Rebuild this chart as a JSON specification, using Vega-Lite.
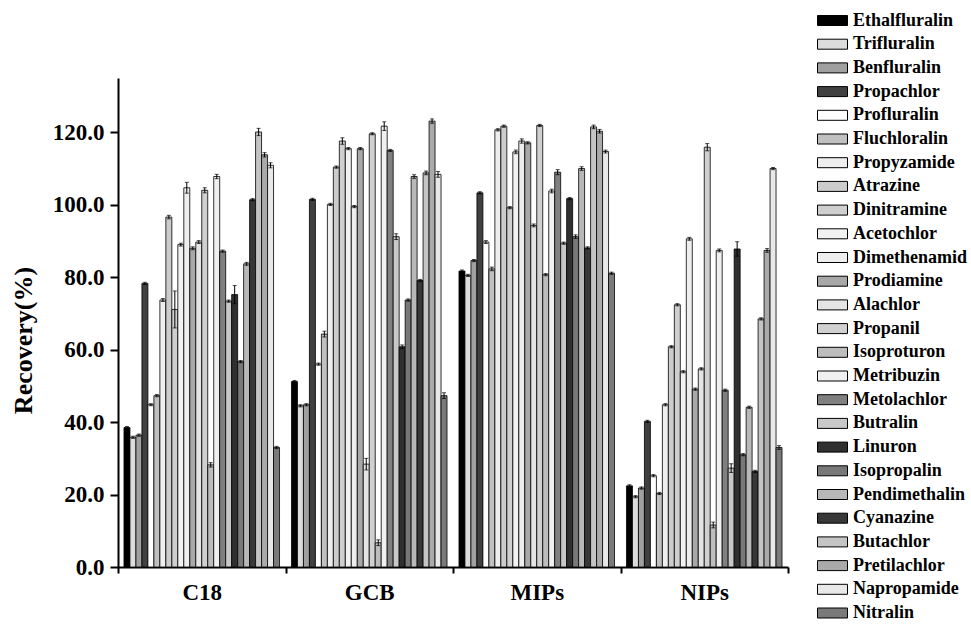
{
 "$schema": "https://vega.github.io/schema/vega-lite/v6.json",
 "width": 670,
 "height": 489,
 "autosize": {"type": "none"},
 "padding": {"left": 118, "top": 78, "right": 183, "bottom": 59},
 "config": {"view": {"stroke": null}, "font": "Liberation Serif"},
 "data": {"values": [
  {"g":"C18","c":"Ethalfluralin","v":38.5,"e":0.3},
  {"g":"C18","c":"Trifluralin","v":35.8,"e":0.3},
  {"g":"C18","c":"Benfluralin","v":36.4,"e":0.3},
  {"g":"C18","c":"Propachlor","v":78.3,"e":0.3},
  {"g":"C18","c":"Profluralin","v":44.8,"e":0.3},
  {"g":"C18","c":"Fluchloralin","v":47.3,"e":0.3},
  {"g":"C18","c":"Propyzamide","v":73.7,"e":0.4},
  {"g":"C18","c":"Atrazine","v":96.6,"e":0.5},
  {"g":"C18","c":"Dinitramine","v":71.1,"e":5.1},
  {"g":"C18","c":"Acetochlor","v":89.0,"e":0.4},
  {"g":"C18","c":"Dimethenamid","v":104.7,"e":1.5},
  {"g":"C18","c":"Prodiamine","v":88.0,"e":0.4},
  {"g":"C18","c":"Alachlor","v":89.7,"e":0.4},
  {"g":"C18","c":"Propanil","v":104.0,"e":0.7},
  {"g":"C18","c":"Isoproturon","v":28.2,"e":0.6},
  {"g":"C18","c":"Metribuzin","v":107.8,"e":0.6},
  {"g":"C18","c":"Metolachlor","v":87.2,"e":0.3},
  {"g":"C18","c":"Butralin","v":73.4,"e":0.3},
  {"g":"C18","c":"Linuron","v":75.2,"e":2.5},
  {"g":"C18","c":"Isopropalin","v":56.7,"e":0.3},
  {"g":"C18","c":"Pendimethalin","v":83.7,"e":0.4},
  {"g":"C18","c":"Cyanazine","v":101.4,"e":0.3},
  {"g":"C18","c":"Butachlor","v":120.1,"e":1.0},
  {"g":"C18","c":"Pretilachlor","v":113.8,"e":0.6},
  {"g":"C18","c":"Napropamide","v":110.9,"e":0.7},
  {"g":"C18","c":"Nitralin","v":33.0,"e":0.3},
  {"g":"GCB","c":"Ethalfluralin","v":51.2,"e":0.3},
  {"g":"GCB","c":"Trifluralin","v":44.5,"e":0.3},
  {"g":"GCB","c":"Benfluralin","v":44.8,"e":0.3},
  {"g":"GCB","c":"Propachlor","v":101.5,"e":0.3},
  {"g":"GCB","c":"Profluralin","v":56.0,"e":0.3},
  {"g":"GCB","c":"Fluchloralin","v":64.3,"e":0.8},
  {"g":"GCB","c":"Propyzamide","v":100.1,"e":0.3},
  {"g":"GCB","c":"Atrazine","v":110.4,"e":0.3},
  {"g":"GCB","c":"Dinitramine","v":117.6,"e":0.9},
  {"g":"GCB","c":"Acetochlor","v":115.5,"e":0.3},
  {"g":"GCB","c":"Dimethenamid","v":99.5,"e":0.3},
  {"g":"GCB","c":"Prodiamine","v":115.5,"e":0.3},
  {"g":"GCB","c":"Alachlor","v":28.4,"e":1.6},
  {"g":"GCB","c":"Propanil","v":119.6,"e":0.3},
  {"g":"GCB","c":"Isoproturon","v":6.7,"e":0.8},
  {"g":"GCB","c":"Metribuzin","v":121.7,"e":1.2},
  {"g":"GCB","c":"Metolachlor","v":115.0,"e":0.3},
  {"g":"GCB","c":"Butralin","v":91.2,"e":0.8},
  {"g":"GCB","c":"Linuron","v":60.8,"e":0.5},
  {"g":"GCB","c":"Isopropalin","v":73.7,"e":0.3},
  {"g":"GCB","c":"Pendimethalin","v":107.8,"e":0.5},
  {"g":"GCB","c":"Cyanazine","v":79.1,"e":0.3},
  {"g":"GCB","c":"Butachlor","v":108.8,"e":0.5},
  {"g":"GCB","c":"Pretilachlor","v":123.1,"e":0.6},
  {"g":"GCB","c":"Napropamide","v":108.4,"e":0.8},
  {"g":"GCB","c":"Nitralin","v":47.3,"e":0.8},
  {"g":"MIPs","c":"Ethalfluralin","v":81.7,"e":0.3},
  {"g":"MIPs","c":"Trifluralin","v":80.5,"e":0.3},
  {"g":"MIPs","c":"Benfluralin","v":84.6,"e":0.3},
  {"g":"MIPs","c":"Propachlor","v":103.3,"e":0.3},
  {"g":"MIPs","c":"Profluralin","v":89.7,"e":0.4},
  {"g":"MIPs","c":"Fluchloralin","v":82.3,"e":0.5},
  {"g":"MIPs","c":"Propyzamide","v":120.7,"e":0.3},
  {"g":"MIPs","c":"Atrazine","v":121.7,"e":0.3},
  {"g":"MIPs","c":"Dinitramine","v":99.2,"e":0.3},
  {"g":"MIPs","c":"Acetochlor","v":114.6,"e":0.5},
  {"g":"MIPs","c":"Dimethenamid","v":117.6,"e":0.6},
  {"g":"MIPs","c":"Prodiamine","v":117.1,"e":0.3},
  {"g":"MIPs","c":"Alachlor","v":94.3,"e":0.4},
  {"g":"MIPs","c":"Propanil","v":121.9,"e":0.3},
  {"g":"MIPs","c":"Isoproturon","v":80.7,"e":0.3},
  {"g":"MIPs","c":"Metribuzin","v":103.8,"e":0.5},
  {"g":"MIPs","c":"Metolachlor","v":109.0,"e":0.7},
  {"g":"MIPs","c":"Butralin","v":89.4,"e":0.3},
  {"g":"MIPs","c":"Linuron","v":101.7,"e":0.3},
  {"g":"MIPs","c":"Isopropalin","v":91.2,"e":0.5},
  {"g":"MIPs","c":"Pendimethalin","v":110.0,"e":0.5},
  {"g":"MIPs","c":"Cyanazine","v":88.1,"e":0.3},
  {"g":"MIPs","c":"Butachlor","v":121.5,"e":0.5},
  {"g":"MIPs","c":"Pretilachlor","v":120.3,"e":0.5},
  {"g":"MIPs","c":"Napropamide","v":114.7,"e":0.4},
  {"g":"MIPs","c":"Nitralin","v":81.1,"e":0.3},
  {"g":"NIPs","c":"Ethalfluralin","v":22.4,"e":0.3},
  {"g":"NIPs","c":"Trifluralin","v":19.4,"e":0.3},
  {"g":"NIPs","c":"Benfluralin","v":21.8,"e":0.3},
  {"g":"NIPs","c":"Propachlor","v":40.2,"e":0.3},
  {"g":"NIPs","c":"Profluralin","v":25.2,"e":0.3},
  {"g":"NIPs","c":"Fluchloralin","v":20.3,"e":0.3},
  {"g":"NIPs","c":"Propyzamide","v":44.8,"e":0.3},
  {"g":"NIPs","c":"Atrazine","v":60.8,"e":0.3},
  {"g":"NIPs","c":"Dinitramine","v":72.4,"e":0.3},
  {"g":"NIPs","c":"Acetochlor","v":53.9,"e":0.3},
  {"g":"NIPs","c":"Dimethenamid","v":90.6,"e":0.4},
  {"g":"NIPs","c":"Prodiamine","v":49.1,"e":0.3},
  {"g":"NIPs","c":"Alachlor","v":54.7,"e":0.3},
  {"g":"NIPs","c":"Propanil","v":115.9,"e":1.0},
  {"g":"NIPs","c":"Isoproturon","v":11.6,"e":0.8},
  {"g":"NIPs","c":"Metribuzin","v":87.4,"e":0.4},
  {"g":"NIPs","c":"Metolachlor","v":48.8,"e":0.3},
  {"g":"NIPs","c":"Butralin","v":27.3,"e":1.2},
  {"g":"NIPs","c":"Linuron","v":87.8,"e":2.0},
  {"g":"NIPs","c":"Isopropalin","v":31.0,"e":0.3},
  {"g":"NIPs","c":"Pendimethalin","v":44.1,"e":0.3},
  {"g":"NIPs","c":"Cyanazine","v":26.4,"e":0.3},
  {"g":"NIPs","c":"Butachlor","v":68.5,"e":0.3},
  {"g":"NIPs","c":"Pretilachlor","v":87.4,"e":0.5},
  {"g":"NIPs","c":"Napropamide","v":110.0,"e":0.3},
  {"g":"NIPs","c":"Nitralin","v":33.0,"e":0.5}
 ]},
 "encoding": {
  "x": {
   "field": "g", "type": "nominal",
   "scale": {"domain": ["C18","GCB","MIPs","NIPs"], "paddingInner": 0, "paddingOuter": 0},
   "axis": {"title": null, "labelAngle": 0, "labelFont": "Liberation Serif", "labelFontWeight": "bold", "labelFontSize": 23, "labelColor": "black", "labelPadding": 8, "tickBand": "extent", "tickSize": 6, "tickWidth": 2, "tickColor": "black", "domainWidth": 2, "domainColor": "black"}
  },
  "xOffset": {
   "field": "c", "type": "nominal",
   "scale": {"domain": ["Ethalfluralin","Trifluralin","Benfluralin","Propachlor","Profluralin","Fluchloralin","Propyzamide","Atrazine","Dinitramine","Acetochlor","Dimethenamid","Prodiamine","Alachlor","Propanil","Isoproturon","Metribuzin","Metolachlor","Butralin","Linuron","Isopropalin","Pendimethalin","Cyanazine","Butachlor","Pretilachlor","Napropamide","Nitralin"], "paddingInner": 0, "paddingOuter": 1.4}
  }
 },
 "layer": [
  {
   "mark": {"type": "bar", "stroke": "black", "strokeWidth": 0.8},
   "encoding": {
    "y": {
     "field": "v", "type": "quantitative", "title": "Recovery(%)",
     "scale": {"domain": [0, 135], "nice": false, "zero": true},
     "axis": {"title": "Recovery(%)", "values": [0,20,40,60,80,100,120], "format": ".1f", "grid": false, "labelFont": "Liberation Serif", "labelFontWeight": "bold", "labelFontSize": 23, "labelColor": "black", "labelPadding": 6, "tickSize": 8, "tickWidth": 2, "tickColor": "black", "domainWidth": 2, "domainColor": "black", "titleFont": "Liberation Serif", "titleFontWeight": "bold", "titleFontSize": 26, "titleColor": "black", "titleX": -95, "titleY": 262, "titleAngle": -90, "titleAlign": "center", "titleBaseline": "middle"}
    },
    "fill": {
     "field": "c", "type": "nominal",
     "scale": {
      "domain": ["Ethalfluralin","Trifluralin","Benfluralin","Propachlor","Profluralin","Fluchloralin","Propyzamide","Atrazine","Dinitramine","Acetochlor","Dimethenamid","Prodiamine","Alachlor","Propanil","Isoproturon","Metribuzin","Metolachlor","Butralin","Linuron","Isopropalin","Pendimethalin","Cyanazine","Butachlor","Pretilachlor","Napropamide","Nitralin"],
      "range": ["#000000","#dcdcdc","#a0a0a0","#404040","#ffffff","#c0c0c0","#eeeeee","#cccccc","#cfcfcf","#f2f2f2","#eeeeee","#a8a8a8","#e4e4e4","#d0d0d0","#bdbdbd","#f0f0f0","#808080","#c8c8c8","#303030","#787878","#b8b8b8","#383838","#c4c4c4","#aaaaaa","#e8e8e8","#7a7a7a"]
     },
     "legend": {"title": null, "orient": "none", "legendX": 704, "legendY": -68, "symbolType": "M-1.5,-0.5H1.5V0.5H-1.5Z", "symbolSize": 400, "symbolStrokeColor": "black", "symbolStrokeWidth": 1, "labelFont": "Liberation Serif", "labelFontWeight": "bold", "labelFontSize": 18, "labelColor": "black", "labelOffset": 10, "rowPadding": 3.7, "symbolLimit": 30, "labelLimit": 200}
    }
   }
  },
  {
   "mark": {"type": "errorbar", "color": "black", "ticks": {"size": 4, "color": "black"}, "thickness": 1},
   "encoding": {
    "y": {"field": "v", "type": "quantitative", "title": "Recovery(%)"},
    "yError": {"field": "e"}
   }
  }
 ]
}
